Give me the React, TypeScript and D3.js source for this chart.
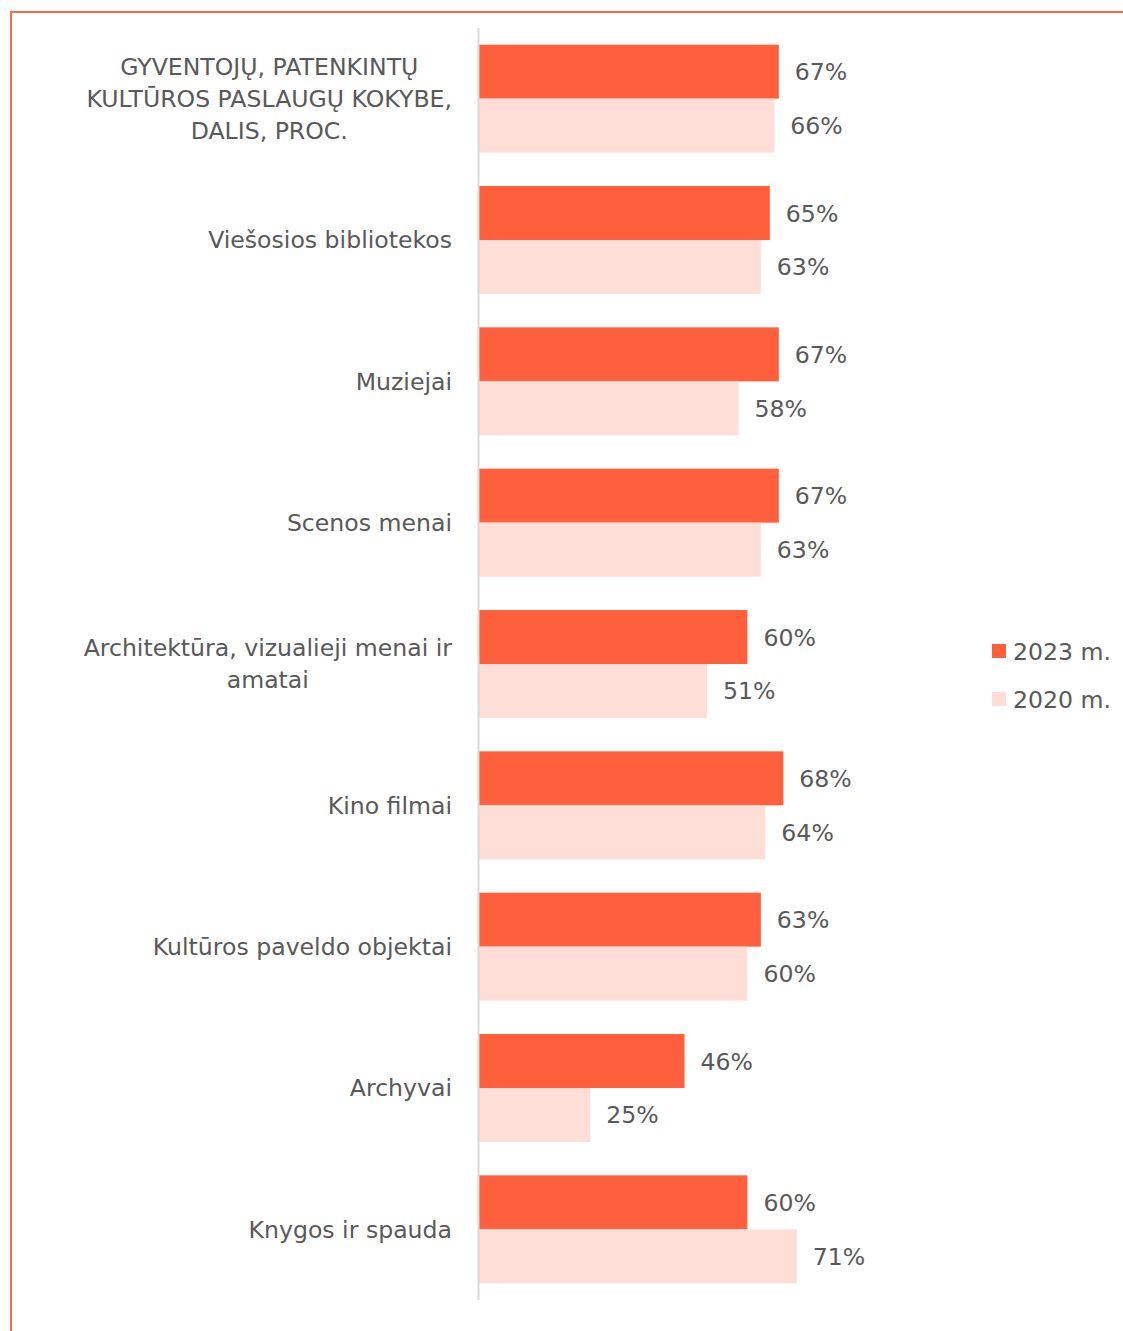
import React from "react";
import * as d3 from "d3";

const categories = [
  "GYVENTOJŲ, PATENKINTŲ\nKULTŪROS PASLAUGŲ KOKYBE,\nDALIS, PROC.",
  "Viešosios bibliotekos",
  "Muziejai",
  "Scenos menai",
  "Architektūra, vizualieji menai ir\namatai",
  "Kino filmai",
  "Kultūros paveldo objektai",
  "Archyvai",
  "Knygos ir spauda",
];
const values2023 = [67, 65, 67, 67, 60, 68, 63, 46, 60];
const values2020 = [66, 63, 58, 63, 51, 64, 60, 25, 71];
const seriesNames = ["2023 m.", "2020 m."];
const seriesColors = ["#FF5F3C", "#FFDED7"];

const W = 1123;
const H = 1331;
const FONT = "'DejaVu Sans', Verdana, sans-serif";
const FS = 23.6;
const TEXT = "#595959";

function measure(t: string): number {
  const c = document.createElement("canvas").getContext("2d")!;
  c.font = `${FS}px DejaVu Sans`;
  return c.measureText(t).width;
}

export default function App() {
  const x = d3.scaleLinear().domain([0, 100]).range([478, 927]);
  const y = d3
    .scaleBand<string>()
    .domain(categories)
    .range([28, 1300])
    .paddingInner(0.236)
    .paddingOuter(0.118);
  const sub = d3
    .scaleBand<string>()
    .domain(seriesNames)
    .range([0, y.bandwidth()]);
  const series = [values2023, values2020];
  const labelRight = 452;
  const lh = 32;

  return (
    <svg
      width={W}
      height={H}
      style={{ position: "absolute", left: 0, top: 0, display: "block" }}
      fontFamily={FONT}
    >
      <rect x={0} y={0} width={W} height={H} fill="#fff" />
      <line x1={10} y1={12} x2={W} y2={12} stroke="#FF6A45" strokeWidth={2} />
      <line x1={11} y1={12} x2={11} y2={H} stroke="#FF6A45" strokeWidth={2} />
      {categories.map((cat, i) => {
        const y0 = y(cat)!;
        const cy = y0 + y.bandwidth() / 2;
        const lines = cat.split("\n");
        const maxW = Math.max(...lines.map(measure));
        const cx = labelRight - maxW / 2;
        return (
          <g key={cat}>
            {series.map((vals, s) => {
              const by = y0 + sub(seriesNames[s])!;
              const bh = sub.bandwidth();
              return (
                <g key={s}>
                  <rect
                    x={x(0)}
                    y={by}
                    width={x(vals[i]) - x(0)}
                    height={bh}
                    fill={seriesColors[s]}
                  />
                  <text
                    x={x(vals[i]) + 16}
                    y={by + bh / 2}
                    dy="0.36em"
                    fontSize={FS}
                    fill={TEXT}
                  >
                    {vals[i]}%
                  </text>
                </g>
              );
            })}
            {lines.map((ln, k) => (
              <text
                key={k}
                x={lines.length > 1 ? cx : labelRight}
                y={cy + (k - (lines.length - 1) / 2) * lh}
                dy="0.36em"
                textAnchor={lines.length > 1 ? "middle" : "end"}
                fontSize={FS}
                fill={TEXT}
              >
                {ln}
              </text>
            ))}
          </g>
        );
      })}
      <line x1={478.5} y1={28} x2={478.5} y2={1300} stroke="#D9D9D9" strokeWidth={2} />
      {seriesNames.map((n, s) => (
        <g key={n} transform={`translate(992, ${651 + s * 48})`}>
          <rect x={0} y={-7} width={14} height={14} fill={seriesColors[s]} />
          <text x={21} y={0} dy="0.36em" fontSize={FS} fill={TEXT}>
            {n}
          </text>
        </g>
      ))}
    </svg>
  );
}
